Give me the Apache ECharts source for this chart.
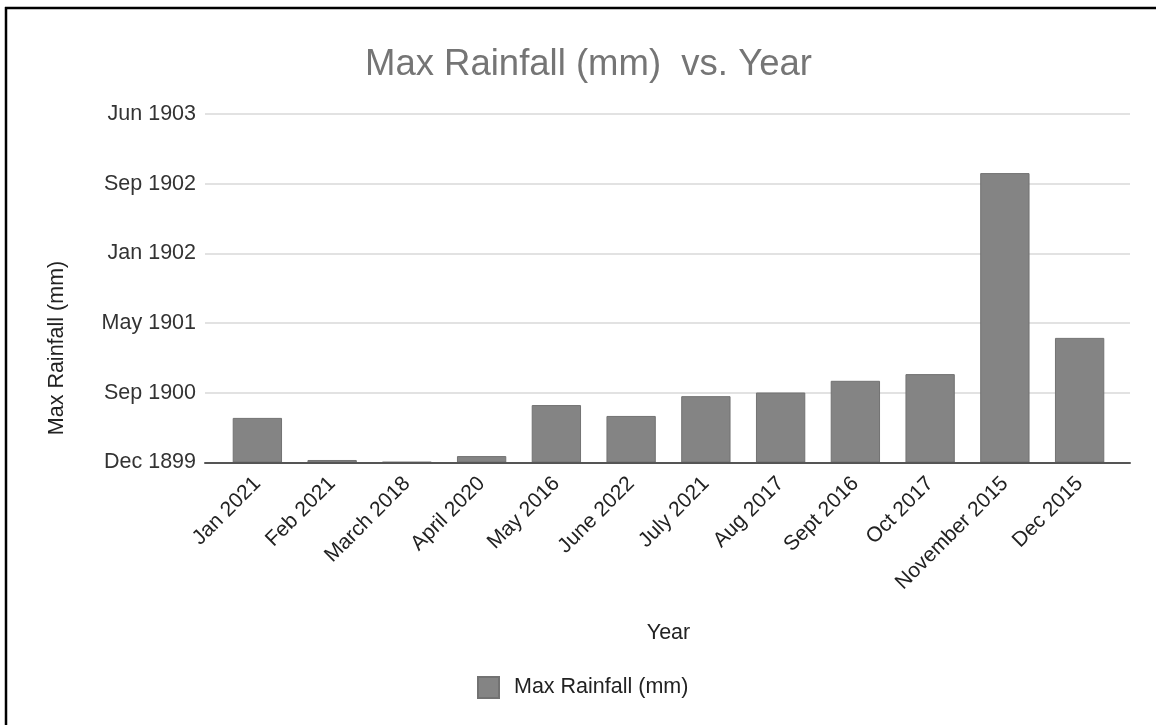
<!DOCTYPE html>
<html>
<head>
<meta charset="utf-8">
<style>
  html, body { margin: 0; padding: 0; background: #fff; }
  #chart { width: 1156px; height: 725px; }
</style>
<script src="https://cdn.jsdelivr.net/npm/echarts@6/dist/echarts.min.js"></script>
</head>
<body>
<div id="chart"></div>
<script>
// Monthly maximum rainfall (mm); the value axis is shown in the sheet's date format
const categories = ['Jan 2021', 'Feb 2021', 'March 2018', 'April 2020', 'May 2016', 'June 2022',
  'July 2021', 'Aug 2017', 'Sept 2016', 'Oct 2017', 'November 2015', 'Dec 2015'];
const maxRainfall = [160, 9, 2, 23, 206, 167, 238, 251, 293, 317, 1038, 447];
const yTickLabels = ['Dec 1899', 'Sep 1900', 'May 1901', 'Jan 1902', 'Sep 1902', 'Jun 1903'];
const yStep = 250;
const yMax = 1250;

const FONT = 'Liberation Sans, Arial, sans-serif';
const chart = echarts.init(document.getElementById('chart'), null, { renderer: 'canvas' });

chart.setOption({
  backgroundColor: '#ffffff',
  animation: false,
  title: {
    text: 'Max Rainfall (mm)  vs. Year',
    left: 360,
    top: 41,
    textStyle: { fontFamily: FONT, fontSize: 36.5, fontWeight: 'normal', color: '#757575' }
  },
  legend: {
    data: ['Max Rainfall (mm)'],
    left: 472,
    top: 671,
    icon: 'rect',
    itemWidth: 21,
    itemHeight: 21,
    textStyle: { fontFamily: FONT, fontSize: 21.5, color: '#222', padding: [0, 0, 0, 10] }
  },
  grid: [
    { left: 220, right: 39, top: 114, height: 348.5 },
    { left: 205, right: 26, top: 114, height: 348.5 }
  ],
  xAxis: [
    {
      type: 'category',
      gridIndex: 0,
      data: categories,
      axisLine: { show: false },
      axisTick: { show: false },
      axisLabel: {
        rotate: 45,
        margin: 18,
        interval: 0,
        fontFamily: FONT,
        fontSize: 21,
        color: '#222'
      },
      name: 'Year',
      nameLocation: 'middle',
      nameGap: 160,
      nameTextStyle: { fontFamily: FONT, fontSize: 21.5, color: '#222' }
    },
    {
      type: 'value',
      gridIndex: 1,
      min: 0,
      max: 1,
      axisLine: { show: true, onZero: false, lineStyle: { color: '#555', width: 2 } },
      axisTick: { show: false },
      axisLabel: { show: false },
      splitLine: { show: false },
      z: 5
    }
  ],
  yAxis: [
    {
      type: 'value',
      gridIndex: 0,
      min: 0,
      max: yMax,
      interval: yStep,
      axisLine: { show: false },
      axisTick: { show: false },
      axisLabel: { show: false },
      splitLine: { show: false }
    },
    {
      type: 'value',
      gridIndex: 1,
      min: 0,
      max: yMax,
      interval: yStep,
      axisLine: { show: false },
      axisTick: { show: false },
      axisLabel: {
        margin: 9,
        fontFamily: FONT,
        fontSize: 21.5,
        color: '#333',
        formatter: v => yTickLabels[Math.round(v / yStep)]
      },
      splitLine: { lineStyle: { color: '#d9d9d9', width: 1.5 } }
    }
  ],
  series: [
    {
      name: 'Max Rainfall (mm)',
      type: 'bar',
      xAxisIndex: 0,
      yAxisIndex: 0,
      data: maxRainfall,
      barWidth: '66%',
      itemStyle: { color: '#848484', borderColor: '#727272', borderWidth: 1 },
      z: 3
    }
  ],
  graphic: [
    // value-axis title, centred lower than the plot middle
    {
      type: 'text',
      x: 57,
      y: 348,
      rotation: Math.PI / 2,
      style: {
        text: 'Max Rainfall (mm)',
        fontFamily: FONT,
        fontSize: 21.5,
        fill: '#222',
        align: 'center',
        verticalAlign: 'middle'
      }
    },
    // page frame
    { type: 'line', shape: { x1: 5, y1: 8, x2: 1156, y2: 8 }, style: { stroke: '#000', lineWidth: 2.5 } },
    { type: 'line', shape: { x1: 6, y1: 7, x2: 6, y2: 725 }, style: { stroke: '#000', lineWidth: 2.5 } }
  ]
});
</script>
</body>
</html>
